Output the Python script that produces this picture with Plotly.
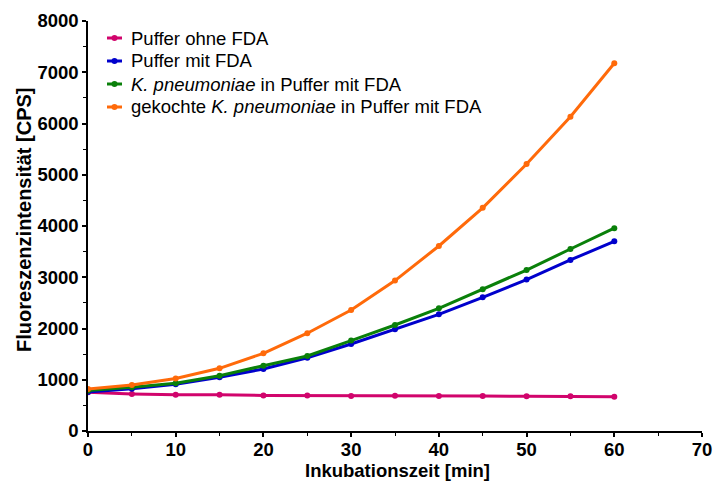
import plotly.graph_objects as go

# Incubation time points [min]
zeit = [0, 5, 10, 15, 20, 25, 30, 35, 40, 45, 50, 55, 60]

# Fluorescence intensity [CPS] per condition
puffer_ohne_fda = [755, 722, 705, 708, 695, 695, 683, 689, 683, 683, 676, 676, 670]
puffer_mit_fda = [761, 826, 911, 1048, 1210, 1430, 1698, 1984, 2277, 2609, 2955, 3337, 3701]
kp_mit_fda = [790, 852, 930, 1079, 1274, 1463, 1765, 2068, 2394, 2766, 3141, 3551, 3958]
kp_gekocht_mit_fda = [820, 898, 1025, 1223, 1516, 1908, 2361, 2935, 3610, 4355, 5210, 6132, 7177]

# Axis tick labels
x_ticks = [0, 10, 20, 30, 40, 50, 60, 70]
y_ticks = [0, 1000, 2000, 3000, 4000, 5000, 6000, 7000, 8000]

serien = [
    ("Puffer ohne FDA", puffer_ohne_fda, "#D1046C"),
    ("Puffer mit FDA", puffer_mit_fda, "#0000CC"),
    ("<i>K. pneumoniae</i> in Puffer mit FDA", kp_mit_fda, "#0A800A"),
    ("gekochte <i>K. pneumoniae</i> in Puffer mit FDA", kp_gekocht_mit_fda, "#FF6A0A"),
]

W, H = 715, 482
M_L, M_R, M_T, M_B = 88, 13, 21, 51
plot_w = W - M_L - M_R
plot_h = H - M_T - M_B


def px_x(px):
    return (px - M_L) / plot_w


def px_y(py):
    return (H - M_B - py) / plot_h


fig = go.Figure()
for name, werte, farbe in serien:
    fig.add_trace(go.Scatter(
        x=zeit, y=werte, name=name, mode="lines+markers",
        line=dict(color=farbe, width=3),
        marker=dict(color=farbe, size=6),
        showlegend=False,
    ))

font_fam = "Liberation Sans, Arial, sans-serif"

# Compact legend: short line sample with a dot, then the label
for i, (name, _, farbe) in enumerate(serien):
    yc = 38 + i * 23
    fig.add_shape(type="line", xref="paper", yref="paper",
                  x0=px_x(107), x1=px_x(122), y0=px_y(yc), y1=px_y(yc),
                  line=dict(color=farbe, width=3))
    fig.add_shape(type="circle", xref="paper", yref="paper",
                  x0=px_x(111.5), x1=px_x(117.5), y0=px_y(yc + 3), y1=px_y(yc - 3),
                  fillcolor=farbe, line=dict(color=farbe, width=0))
    fig.add_annotation(text=name, xref="paper", yref="paper",
                       x=px_x(129), y=px_y(yc), xanchor="left", yanchor="middle",
                       showarrow=False, font=dict(size=18.5, family=font_fam, color="black"))

# Axis titles
fig.add_annotation(text="<b>Inkubationszeit [min]</b>", xref="paper", yref="paper",
                   x=px_x(397), y=0, yshift=-28, xanchor="center", yanchor="top",
                   showarrow=False, borderpad=0,
                   font=dict(size=18.5, family=font_fam, color="black"))
fig.add_annotation(text="<b>Fluoreszenzintensität [CPS]</b>", xref="paper", yref="paper",
                   x=px_x(24), y=px_y(220), xanchor="center", yanchor="middle",
                   textangle=-90, showarrow=False,
                   font=dict(size=20, family=font_fam, color="black"))

tick_style = dict(
    showline=True, linecolor="black", linewidth=1.5,
    ticks="outside", ticklen=4, tickwidth=1.5, tickcolor="black",
    showgrid=False, zeroline=False, automargin=False,
    tickfont=dict(size=18.5, family=font_fam, color="black"),
)

fig.update_layout(
    width=W, height=H,
    margin=dict(l=M_L, r=M_R, t=M_T, b=M_B),
    paper_bgcolor="white", plot_bgcolor="white",
    font=dict(family=font_fam, color="black"),
    showlegend=False,
    xaxis=dict(
        range=[0, 70],
        tickvals=x_ticks, ticktext=[f"<b>{v}</b>" for v in x_ticks],
        minor=dict(dtick=5, ticks="outside", ticklen=3, tickwidth=1, tickcolor="black"),
        ticklabelstandoff=-3,
        **tick_style,
    ),
    yaxis=dict(
        range=[0, 8000],
        tickvals=y_ticks, ticktext=[f"<b>{v}</b>" for v in y_ticks],
        minor=dict(dtick=500, ticks="outside", ticklen=3, tickwidth=1, tickcolor="black"),
        **tick_style,
    ),
)

fig.write_html("out.html")
